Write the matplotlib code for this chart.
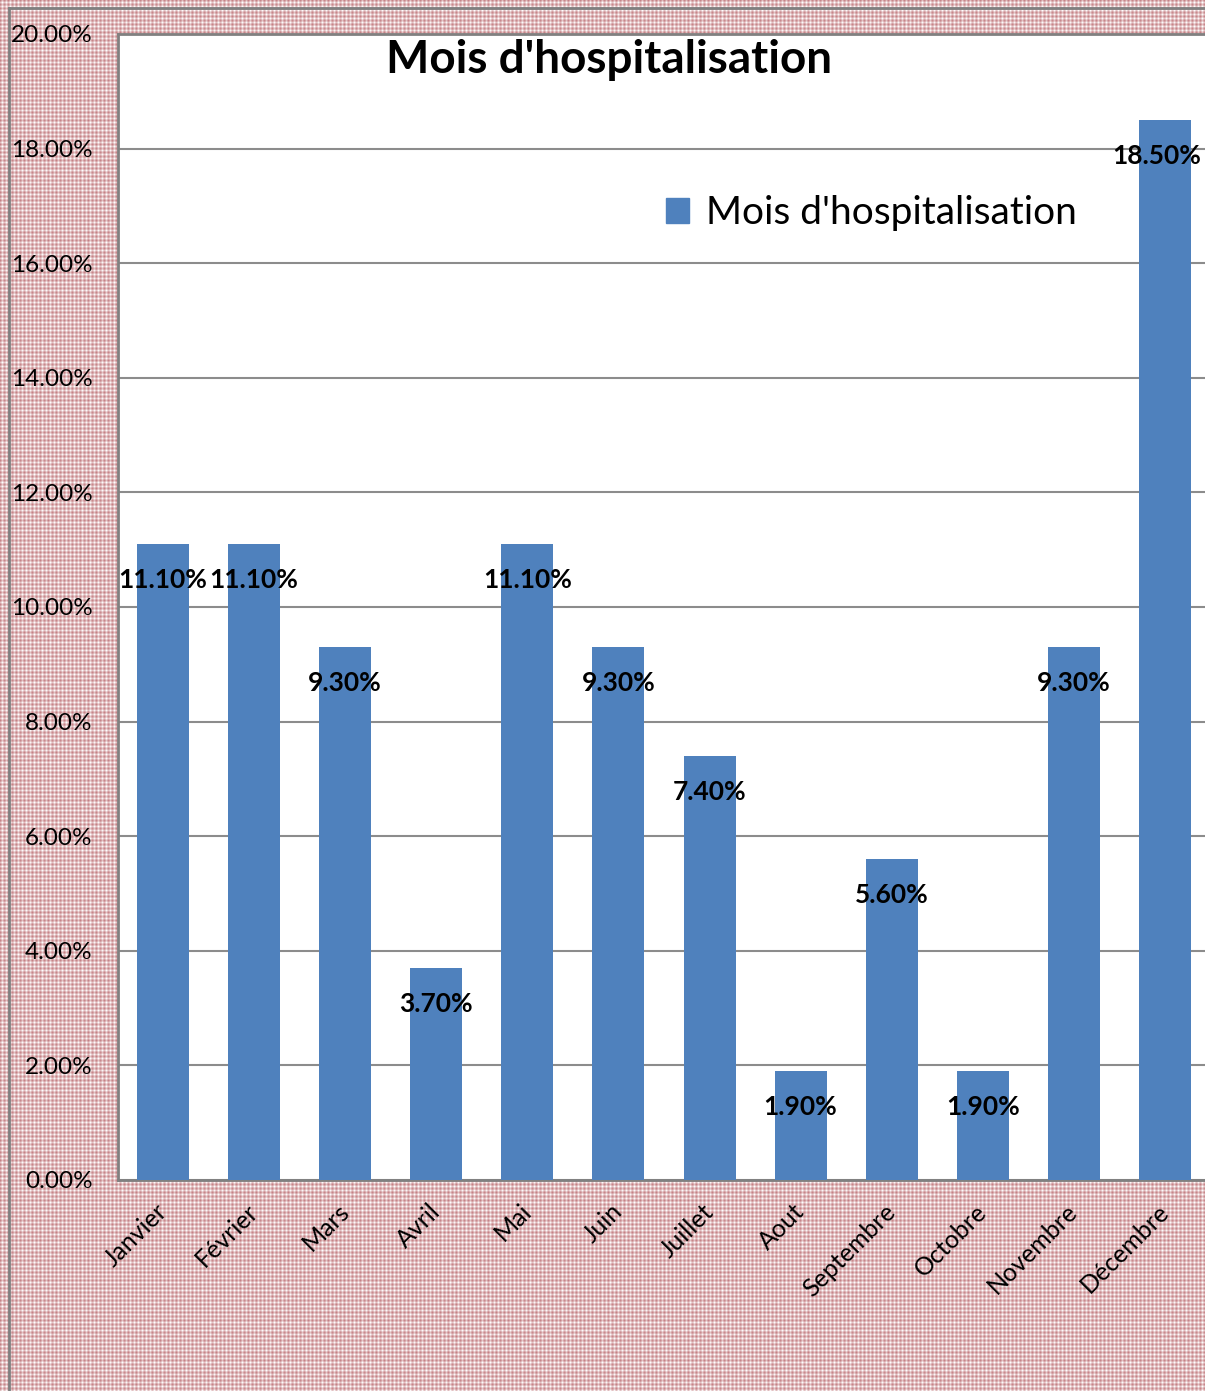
import numpy as np
import matplotlib
matplotlib.use("Agg")
import matplotlib.pyplot as plt
from matplotlib.patches import Patch
from matplotlib.lines import Line2D

plt.rcParams["font.family"] = ["Lato", "DejaVu Sans"]

months = ["Janvier", "Février", "Mars", "Avril", "Mai", "Juin", "Juillet",
          "Aout", "Septembre", "Octobre", "Novembre", "Décembre"]
share = [11.10, 11.10, 9.30, 3.70, 11.10, 9.30, 7.40, 1.90, 5.60, 1.90, 9.30, 18.50]
yticks = [0, 2, 4, 6, 8, 10, 12, 14, 16, 18, 20]
series_name = "Mois d'hospitalisation"

BLUE = "#4f81bd"
GRID = "#8c8c8c"
W, H = 1205, 1391

fig = plt.figure(figsize=(W / 100, H / 100), dpi=100)

# pink tartan backdrop
stripe = np.array([0.25, 0.6, 1.0, 0.6, 0.3, 0.55, 0.95, 0.55])
tile = (stripe[:, None] + stripe[None, :]) / 2
tiles = np.tile(tile, (H // 8 + 1, W // 8 + 1))[:H, :W]
red = np.array([0.70, 0.35, 0.37])
bg = tiles[..., None] * 1.0 + (1 - tiles[..., None]) * red
fig.figimage(bg, xo=0, yo=0, zorder=-1)

# outer frame edge
fig.add_artist(Line2D([9 / W, 9 / W], [0, 1 - 8 / H], color="#808080", lw=2,
                      transform=fig.transFigure))
fig.add_artist(Line2D([9 / W, 1], [1 - 8 / H, 1 - 8 / H], color="#808080", lw=2,
                      transform=fig.transFigure))

ax = fig.add_axes([117.5 / W, 211 / H, 1093 / W, 1146 / H])
ax.set_facecolor("white")
x = np.arange(len(months))
ax.bar(x, share, width=0.57, color=BLUE, zorder=3)
ax.set_xlim(-0.5, 11.5)
ax.set_ylim(0, 20)

ax.set_yticks(yticks)
ax.set_yticklabels([f"{v:.2f}%" for v in yticks], fontsize=17.5)
ax.yaxis.grid(True, color=GRID, lw=1.5, zorder=1)
ax.set_axisbelow(True)
ax.set_xticks(x)
ax.set_xticklabels(months, rotation=45, ha="right", va="center",
                   rotation_mode="anchor", fontsize=18)
ax.tick_params(axis="y", length=0, pad=18)
ax.tick_params(axis="x", length=0, pad=20)
for side in ("left", "top", "bottom"):
    ax.spines[side].set_color("#808080")
    ax.spines[side].set_linewidth(2)
ax.spines["right"].set_visible(False)

# value labels inside the bar tops; the last one is nudged left to stay on the page
for xi, v in zip(x, share):
    dx = -8 if xi == len(months) - 1 else 0
    ax.annotate(f"{v:.2f}%", (xi, v), xytext=(dx, -36), textcoords="offset pixels",
                ha="center", va="center", fontsize=19, fontweight="bold", zorder=4)

fig.text(609 / W, 1 - 60 / H, series_name, ha="center", va="center",
         fontsize=33, fontweight="bold")

ax.legend(handles=[Patch(color=BLUE, label=series_name)], loc="center left",
          bbox_to_anchor=(650 / W, 1 - 213 / H), bbox_transform=fig.transFigure,
          frameon=False, fontsize=28, handlelength=0.6, handleheight=0.6,
          handletextpad=0.45, borderaxespad=0)

fig.savefig("out.png", dpi=100)
